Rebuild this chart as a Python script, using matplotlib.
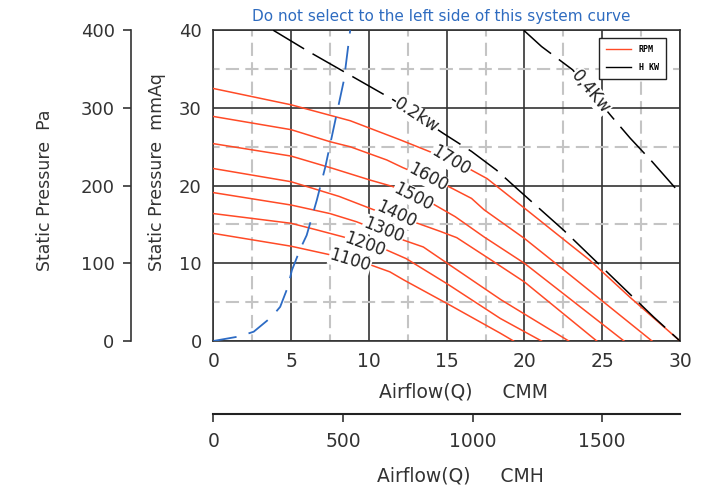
import numpy as np
import matplotlib
matplotlib.use("Agg")
import matplotlib.pyplot as plt
from matplotlib.lines import Line2D

plt.rcParams['font.family'] = 'DejaVu Sans'
plt.rcParams['lines.scale_dashes'] = False

# fan curves (CMM vs mmAq)
rpm_labels = ['1700', '1600', '1500', '1400', '1300', '1200', '1100']
rpm_x = [
    [0, 5, 8.8, 12.0, 14.0, 16.5, 17.6, 20.0, 22.0, 24.2, 26.8, 30],
    [0, 5, 7.5, 8.8, 11.15, 12.2, 15.2, 16.6, 17.4, 20.0, 22.0, 28.2],
    [0, 5, 7.7, 10.1, 11.5, 13.9, 15.55, 17.4, 20.0, 26.4],
    [0, 5, 8.1, 10.3, 13.2, 14.6, 15.65, 17.8, 20.0, 24.65],
    [0, 5, 7.5, 9.2, 12.2, 13.5, 14.6, 18.5, 22.85],
    [0, 5, 6.65, 8.35, 11.15, 12.4, 15.0, 18.45, 21.1],
    [0, 5, 7.5, 10.1, 11.35, 12.25, 15.0, 18.45, 19.3],
]
rpm_y = [
    [32.5, 30.4, 28.35, 25.9, 24.3, 22.1, 20.9, 17.1, 13.9, 10.4, 5.6, 0],
    [28.9, 27.2, 25.65, 25.0, 23.3, 22.3, 19.8, 18.35, 16.9, 13.2, 10.0, 0],
    [25.4, 23.8, 22.2, 20.7, 19.9, 17.9, 16.0, 13.4, 10.0, 0],
    [22.2, 20.5, 18.6, 16.9, 15.1, 14.1, 13.3, 10.5, 7.6, 0],
    [19.1, 17.5, 16.4, 15.35, 13.0, 12.1, 10.6, 5.3, 0],
    [16.4, 15.15, 14.3, 13.4, 11.7, 10.6, 7.4, 2.9, 0],
    [13.85, 12.2, 11.1, 9.8, 8.9, 7.85, 4.85, 1.0, 0],
]

# constant shaft power lines
hkw_labels = ['0.2kw', '0,4Kw']
hkw_x = [
    [3.85, 6.0, 11.6, 14.8, 16.6, 18.2, 19.5, 22.5, 25.4, 28.3, 30],
    [19.95, 21.1, 23.1, 25.6, 26.8, 28.2, 30],
]
hkw_y = [
    [40, 37.4, 31.0, 26.7, 24.4, 22.0, 19.65, 14.3, 8.7, 3.1, 0],
    [40, 37.9, 34.9, 28.9, 26.1, 23.1, 19.0],
]

# system curve
sys_x = [0, 1.7, 2.6, 3.75, 4.3, 4.8, 5.05, 5.6, 6.0, 6.65, 7.2, 8.4, 8.8]
sys_y = [0, 0.6, 1.2, 3.1, 4.4, 7.0, 9.1, 11.9, 13.6, 18.1, 22.4, 33.6, 40]

red = '#ff4a26'
blue = '#2d6bc4'
ink = '#333333'

W, H = 716, 495
fig = plt.figure(figsize=(W / 100, H / 100), dpi=100)
ax = fig.add_axes([213.3 / W, 1 - 341 / H, 466.7 / W, 310.8 / H])
ax.set_xlim(0, 30)
ax.set_ylim(0, 40)

ax.set_xticks(range(0, 31, 5))
ax.set_yticks(range(0, 41, 10))
ax.set_xticks(np.arange(2.5, 30, 5), minor=True)
ax.set_yticks(np.arange(5, 40, 10), minor=True)
ax.grid(which='major', color=ink, lw=1.2)
ax.grid(which='minor', color='#c4c4c4', lw=1.5, linestyle=(4.75, (9.5, 4.5)))
ax.tick_params(which='both', length=0)
ax.tick_params(axis='x', labelsize=13.5, pad=8, labelcolor=ink)
ax.tick_params(axis='y', labelsize=13, pad=8.4, labelcolor=ink)
for s in ax.spines.values():
    s.set_color(ink)
    s.set_linewidth(1.2)

for xs, ys in zip(rpm_x, rpm_y):
    ax.plot(xs, ys, color=red, lw=1.1, zorder=3)
for xs, ys in zip(hkw_x, hkw_y):
    ax.plot(xs, ys, color='black', lw=1.1, linestyle=(0, (26, 7)), zorder=3)
ax.plot(sys_x, sys_y, color=blue, lw=1.3, linestyle=(0, (17, 9)), zorder=4)

# curve labels
rpm_pos = [(15.27, 23.2, -31), (13.78, 21.04, -28), (12.86, 18.57, -27),
           (11.79, 16.32, -25), (10.93, 14.29, -22), (9.76, 12.36, -20),
           (8.79, 10.32, -17)]
for lab, (x, y, r) in zip(rpm_labels, rpm_pos):
    ax.text(x, y, lab, rotation=r, rotation_mode='anchor', ha='center', va='center',
            fontsize=12, color='#222222', zorder=5,
            bbox=dict(fc='white', ec='none', pad=0.4))
hkw_pos = [(13.08, 28.98, -33), (24.28, 32.1, -50)]
for lab, (x, y, r) in zip(hkw_labels, hkw_pos):
    ax.text(x, y, lab, rotation=r, rotation_mode='anchor', ha='center', va='center',
            fontsize=12, color='#222222', zorder=5,
            bbox=dict(fc='white', ec='none', pad=0.4))

handles = [Line2D([], [], color=red, lw=1.0, label='RPM'),
           Line2D([], [], color='black', lw=1.0, label='H KW')]
leg = ax.legend(handles=handles, loc='upper right', bbox_to_anchor=(0.970, 0.974),
                borderaxespad=0, fancybox=False, edgecolor='#222222', framealpha=1,
                prop=dict(size=6, weight='bold', family='DejaVu Sans Mono'),
                handlelength=2.9, handletextpad=1.0, labelspacing=1.0, borderpad=0.85)
leg.get_frame().set_linewidth(1.0)
leg.set_zorder(6)

# Pa axis on the far left
pa = ax.secondary_yaxis((131 - 213.3) / 466.7, functions=(lambda v: v * 10, lambda v: v / 10))
pa.set_yticks([0, 100, 200, 300, 400])
pa.tick_params(direction='out', length=5.8, width=1.2, pad=6, labelsize=13,
               color=ink, labelcolor=ink)
pa.spines['left'].set_color(ink)
pa.spines['left'].set_linewidth(1.2)

# CMH axis below
cmh = ax.secondary_xaxis((341 - 413.8) / 310.8, functions=(lambda v: v * 60, lambda v: v / 60))
cmh.set_xticks([0, 500, 1000, 1500])
cmh.tick_params(direction='out', length=5.8, width=1.2, pad=7.6, labelsize=13.5,
                color=ink, labelcolor=ink)
cmh.spines['bottom'].set_color('#222222')
cmh.spines['bottom'].set_linewidth(1.5)

fig.text(463.5 / W, 1 - 392 / H, 'Airflow(Q)     CMM', ha='center', va='center',
         fontsize=13.5, color=ink)
fig.text(460 / W, 1 - 476 / H, 'Airflow(Q)     CMH', ha='center', va='center',
         fontsize=13.5, color=ink)
fig.text(157 / W, 1 - 271 / H, 'Static Pressure  mmAq', rotation=90, ha='center',
         va='bottom', fontsize=12.5, color=ink)
fig.text(45 / W, 1 - 271 / H, 'Static Pressure  Pa', rotation=90, ha='center',
         va='bottom', fontsize=12.5, color=ink)
fig.text(441.5 / W, 1 - 17 / H, 'Do not select to the left side of this system curve',
         ha='center', va='center', fontsize=11, color='#2f6cc0')

fig.savefig('out.png', dpi=100)
